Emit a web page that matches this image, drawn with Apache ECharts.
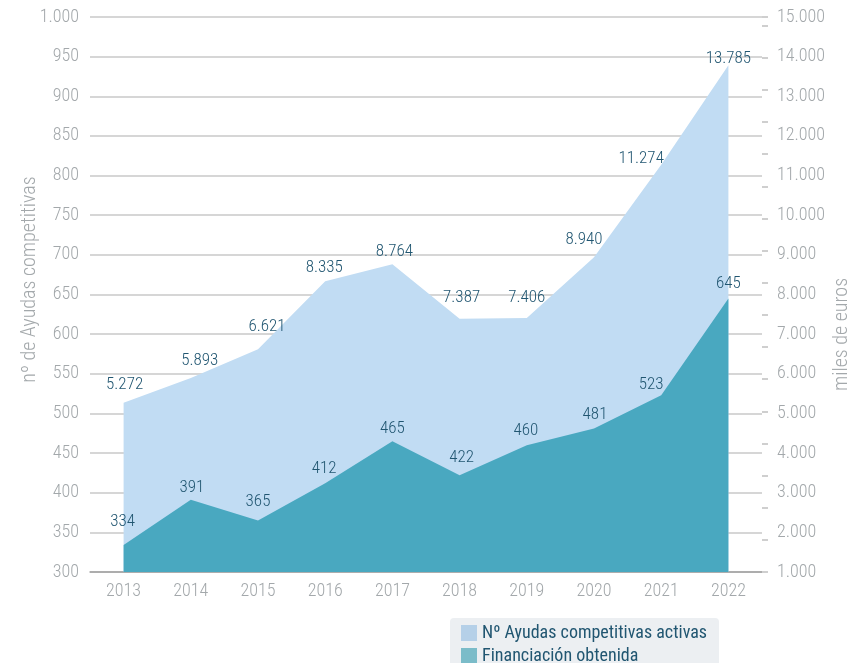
<!DOCTYPE html>
<html>
<head>
<meta charset="utf-8">
<script src="https://cdn.jsdelivr.net/npm/echarts@6/dist/echarts.min.js"></script>
<style>
	html, body { margin: 0; padding: 0; background: #fff; }
	#chart { width: 868px; height: 663px; }
</style>
</head>
<body>
<div id="chart"></div>
<script>
	// datos
	var years = ['2013', '2014', '2015', '2016', '2017', '2018', '2019', '2020', '2021', '2022'];
	var ayudas = [5272, 5893, 6621, 8335, 8764, 7387, 7406, 8940, 11274, 13785];
	var financiacion = [334, 391, 365, 412, 465, 422, 460, 481, 523, 645];
	var ayudasName = 'Nº Ayudas competitivas activas';
	var financiacionName = 'Financiación obtenida';

	// ajustes de etiquetas [dx, dy]
	var ayudasNudge = [[1, -3], [9, -3], [9, -8], [-1, 1], [2, 2], [2, -7], [0, -6], [-10, -3], [-20, 9], [0, 8]];
	var financiacionNudge = [[-1, -9], [1, 2], [0, -4], [-1, 0], [0, 2], [2, -3], [-1, 0], [1, 1], [-10, 4], [0, 0]];

	var FONT = "'Roboto Condensed', 'Liberation Sans Narrow', 'Liberation Sans', sans-serif";
	var GRAY = '#a3a8ab';
	var LABEL = '#215671';

	function fmt(v){
		return String(v).replace(/\B(?=(\d{3})+(?!\d))/g, '.');
	}
	function withNudge(values, nudge){
		return values.map(function(v, i){
			return { value: v, label: { offset: nudge[i] } };
		});
	}

	var myChart = echarts.init(document.getElementById('chart'));
	var option = {
		animation: false,
		textStyle: { fontFamily: FONT, fontWeight: 300 },
		grid: { left: 90, right: 106, top: 17, bottom: 91, outerBoundsMode: 'none', containLabel: false },
		legend: {
			orient: 'vertical',
			left: 450,
			top: 618,
			height: 60,
			padding: [6, 12, 6, 11],
			itemGap: 5,
			itemWidth: 16,
			itemHeight: 16,
			backgroundColor: '#eceff2',
			borderRadius: 4,
			icon: 'rect',
			textStyle: { color: LABEL, fontSize: 18, fontFamily: FONT, fontWeight: 400 },
			data: [
				{ name: ayudasName, itemStyle: { color: '#b5d0e8' } },
				{ name: financiacionName, itemStyle: { color: '#7bbcc9' } }
			]
		},
		xAxis: {
			type: 'category',
			data: years,
			boundaryGap: true,
			axisLine: { lineStyle: { color: '#cfcfcf', width: 2 } },
			axisTick: { length: 12, lineStyle: { color: '#cfcfcf', width: 2 } },
			axisLabel: { color: GRAY, fontSize: 18, fontWeight: 300, margin: 10 }
		},
		yAxis: [
			{
				type: 'value',
				min: 300,
				max: 1000,
				interval: 50,
				z: 3,
				name: 'nº de Ayudas competitivas',
				nameLocation: 'middle',
				nameGap: 50,
				nameMoveOverlap: false,
				nameTextStyle: { color: GRAY, fontSize: 20, fontWeight: 300, padding: [0, 0, 0, 30] },
				axisLine: { show: false },
				axisTick: { show: false },
				axisLabel: {
					color: GRAY, fontSize: 18, fontWeight: 300, margin: 11,
					formatter: function(v){ return fmt(v); }
				},
				splitLine: { lineStyle: { color: 'rgba(0,0,0,0.16)', width: 2 } }
			},
			{
				type: 'value',
				min: 1000,
				max: 15000,
				interval: 1000,
				position: 'right',
				name: 'miles de euros',
				nameLocation: 'middle',
				nameGap: 70,
				nameMoveOverlap: false,
				nameTextStyle: { color: GRAY, fontSize: 20, fontWeight: 300, padding: [0, 80, 0, 0] },
				axisLine: { show: false },
				axisTick: { show: false },
				axisLabel: {
					color: GRAY, fontSize: 18, fontWeight: 300, margin: 15,
					formatter: function(v){ return fmt(v); }
				},
				splitLine: { show: false }
			},
			{
				// marcas sueltas del eje derecho
				type: 'value',
				min: 0,
				max: 17.27,
				interval: 1,
				position: 'right',
				axisLine: { show: false },
				axisLabel: { show: false },
				splitLine: { show: false },
				axisTick: { show: true, length: 6, lineStyle: { color: '#cfcfcf', width: 2 } }
			}
		],
		series: [
			{
				name: ayudasName,
				type: 'line',
				yAxisIndex: 1,
				data: withNudge(ayudas, ayudasNudge),
				symbol: 'circle',
				symbolSize: 0,
				lineStyle: { width: 0 },
				itemStyle: { color: '#c1dcf3' },
				areaStyle: { color: '#c1dcf3', opacity: 1 },
				label: {
					show: true, position: 'top', distance: 6,
					color: LABEL, fontSize: 17, fontWeight: 300,
					formatter: function(p){ return fmt(p.value); }
				}
			},
			{
				name: financiacionName,
				type: 'line',
				yAxisIndex: 0,
				data: withNudge(financiacion, financiacionNudge),
				symbol: 'circle',
				symbolSize: 0,
				lineStyle: { width: 0 },
				itemStyle: { color: '#49a8c0' },
				areaStyle: { color: '#49a8c0', opacity: 1, origin: 'start' },
				label: {
					show: true, position: 'top', distance: 6,
					color: LABEL, fontSize: 17, fontWeight: 300
				}
			}
		]
	};
	myChart.setOption(option);
</script>
</body>
</html>
